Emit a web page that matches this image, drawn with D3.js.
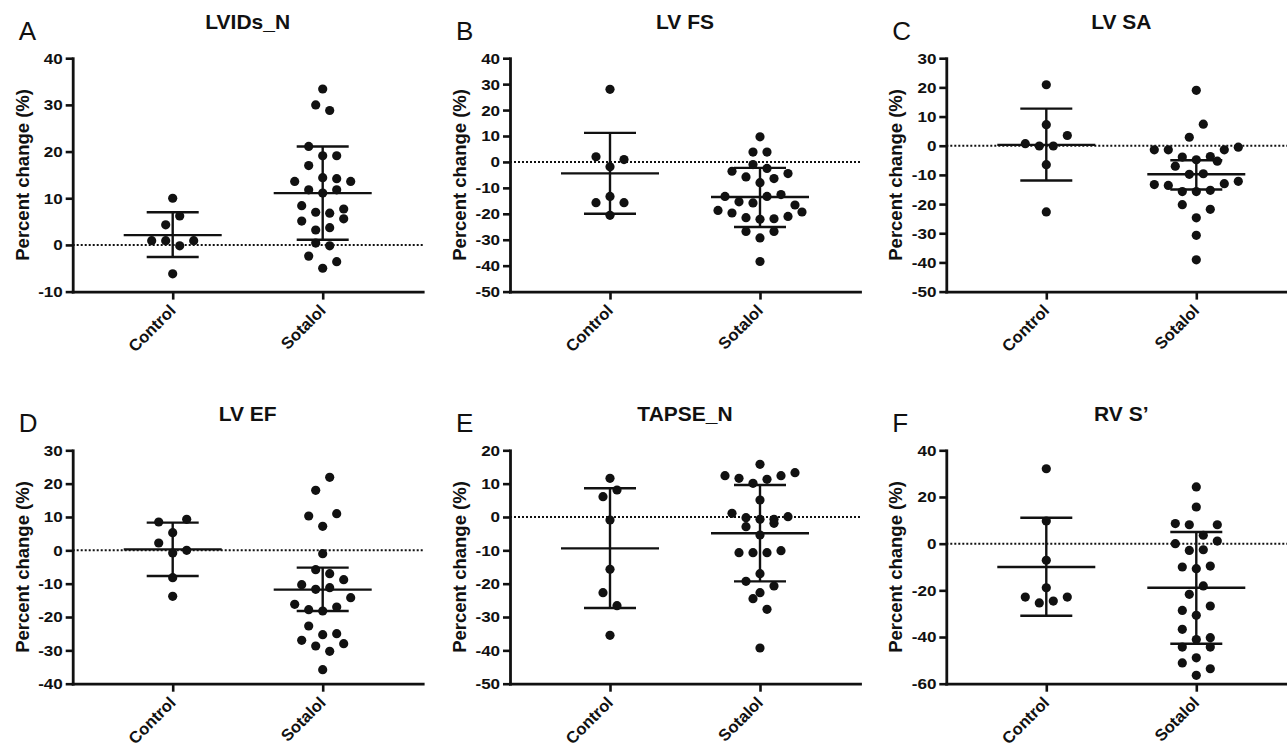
<!DOCTYPE html>
<html>
<head>
<meta charset="utf-8">
<script src="https://cdn.jsdelivr.net/npm/d3@7"></script>
<style>
  body { margin: 0; background: #fff; }
  text { font-family: "Liberation Sans", Arial, Helvetica, sans-serif; fill: #111; }
</style>
</head>
<body>
<div id="my_dataviz"></div>
<script>
// categories shared by every panel
const groups = ["Control", "Sotalol"];

// values (percent change), rows listed top to bottom, left to right
const lvidsControl = [10, 4.3, 6.2, 0.9, 0.9, -0.2, 0.9, -6.2];
const lvidsSotalol = [33.4, 30.0, 28.8, 21.1, 19.1, 19.1, 17.0, 14.4, 14.2, 13.6, 11.8, 11.1, 11.8, 13.6,
  8.4, 7.0, 6.8, 7.7, 5.1, 3.2, 3.7, 5.6, 0.4, -0.2, -2.4, -5.0, -3.6];

const fsControl = [28, 2.0, -1.9, 0.9, -13.3, -15.7, -20.6, -15.7];
const fsSotalol = [9.7, 3.8, 3.8, -1.0, -2.5, -3.6, -5.8, -8.0, -6.4, -4.5, -13.3, -15.4, -15.8, -13.3,
  -12.6, -16.6, -18.7, -19.7, -21.5, -22.1, -21.9, -21.0, -19.3, -26.8, -29.3, -26.8, -38.4];

const saControl = [20.9, 7.2, 0.7, -0.1, -0.1, 3.5, -6.5, -22.7];
const saSotalol = [19.0, 2.9, 7.4, -1.4, -1.4, -3.9, -4.8, -3.7, -1.4, -0.5, -7.0, -9.8, -9.6, -5.3,
  -13.3, -13.6, -15.7, -15.7, -15.3, -13.0, -12.2, -20.2, -24.7, -21.8, -30.7, -39.1];

const efControl = [8.5, 5.3, 9.3, 2.2, -0.8, 0.0, -8.2, -13.8];
const efSotalol = [18.0, 21.9, 10.3, 7.2, 11.0, -1.0, -5.8, -7.0, -10.3, -11.7, -11.2, -8.8, -16.2, -17.8,
  -18.2, -17.0, -14.2, -22.7, -25.3, -25.0, -27.0, -28.7, -30.3, -28.0, -35.8];

const tapseControl = [11.6, 6.1, 8.1, -0.9, -15.7, -22.7, -26.6, -35.5];
const tapseSotalol = [15.8, 12.4, 11.6, 10.1, 11.3, 12.4, 13.3, 5.1, 1.1, -0.2, -0.7, -0.7, 0.1, -2.9,
  -5.4, -1.9, -10.7, -10.7, -10.7, -10.1, -17.0, -19.3, -22.7, -20.7, -24.5, -27.7, -39.3];

const rvsControl = [32.1, 9.7, -7.1, -18.9, -22.9, -25.4, -24.6, -22.9];
const rvsSotalol = [24.3, 15.7, 8.6, 8.1, 3.6, 8.1, 0.0, -2.9, -2.6, 1.1, -10.0, -10.7, -9.6, -21.7,
  -18.1, -28.6, -30.7, -26.7, -36.7, -41.1, -40.3, -44.3, -48.9, -44.3, -51.1, -56.4, -53.6];

// mean and error bar ends as drawn: [mean, upper, lower] per group
const lvidsBars = [[2.1, 7.0, -2.6], [11.1, 21.1, 1.1]];
const fsBars = [[-4.4, 11.2, -20.0], [-13.5, -2.3, -25.1]];
const saBars = [[0.3, 12.7, -11.9], [-9.8, -5.0, -15.0]];
const efBars = [[0.3, 8.3, -7.7], [-11.8, -5.2, -18.2]];
const tapseBars = [[-9.4, 8.6, -27.3], [-4.9, 9.6, -19.3]];
const rvsBars = [[-10.0, 11.1, -30.9], [-18.9, 5.0, -42.9]];

// axis ranges and tick steps
const panelLetters = ["A", "B", "C", "D", "E", "F"];
const panelTitles = ["LVIDs_N", "LV FS", "LV SA", "LV EF", "TAPSE_N", "RV S\u2019"];
const yDomains = [[-10, 40], [-50, 40], [-50, 30], [-40, 30], [-50, 20], [-60, 40]];
const yTickSteps = [10, 10, 10, 10, 10, 20];

const panelValues = [
  [lvidsControl, lvidsSotalol], [fsControl, fsSotalol], [saControl, saSotalol],
  [efControl, efSotalol], [tapseControl, tapseSotalol], [rvsControl, rvsSotalol]
];
const panelBars = [lvidsBars, fsBars, saBars, efBars, tapseBars, rvsBars];

// layout
var width = 350, height = 233.4;
var lefts = [72.7, 510, 946.3], tops = [58.2, 450.3];
var slot = 14, rowGap = 13.8, r = 4.6;

var svg = d3.select("#my_dataviz")
  .append("svg")
    .attr("width", 1287)
    .attr("height", 746);

// prism-like scatter: rows built from the bottom, points spread evenly across each row
function swarm(values, y) {
  var order = values.map(function(d, i) { return i; })
    .sort(function(a, b) { return values[a] - values[b]; });
  var rows = [], cur = null;
  order.forEach(function(i) {
    var py = y(values[i]);
    if (!cur || cur.y0 - py > rowGap) {
      cur = {y0: py, items: []};
      rows.push(cur);
    }
    cur.items.push(i);
  });
  var dx = [];
  rows.forEach(function(row) {
    row.items.sort(function(a, b) { return a - b; });
    var n = row.items.length;
    row.items.forEach(function(i, k) { dx[i] = (k - (n - 1) / 2) * slot; });
  });
  return values.map(function(v, i) { return {v: v, dx: dx[i]}; });
}

panelLetters.forEach(function(letter, p) {
  var g = svg.append("g")
    .attr("transform", "translate(" + lefts[p % 3] + "," + tops[Math.floor(p / 3)] + ")");

  var x = d3.scalePoint().domain(groups).range([0, width]).padding(2 / 3);
  var y = d3.scaleLinear().domain(yDomains[p]).range([height, 0]);
  var step = yTickSteps[p];
  var ticks = d3.range(yDomains[p][0], yDomains[p][1] + step / 2, step);

  // zero reference line
  g.append("line")
    .attr("x1", 0).attr("x2", width)
    .attr("y1", y(0)).attr("y2", y(0))
    .attr("stroke", "#111")
    .attr("stroke-width", 2)
    .attr("stroke-dasharray", "2 2");

  // y axis (plain hyphen minus, like the figure)
  var yAxis = g.append("g")
    .call(d3.axisLeft(y).tickValues(ticks).tickSize(7).tickSizeOuter(0).tickPadding(2)
      .tickFormat(function(d) { return String(d); }));
  yAxis.selectAll("text")
    .attr("font-size", "15.5px")
    .attr("font-weight", "bold")
    .attr("font-family", "Liberation Sans, Arial, sans-serif")
    .attr("fill", "#111")
    .attr("transform", "scale(1.1,1)");

  // x axis
  var xAxis = g.append("g")
    .attr("transform", "translate(0," + height + ")")
    .call(d3.axisBottom(x).tickSize(8).tickSizeOuter(0).tickFormat(""));

  [yAxis, xAxis].forEach(function(a) {
    a.select(".domain").attr("stroke", "#111").attr("stroke-width", 2.8).attr("stroke-linecap", "square");
    a.selectAll(".tick line").attr("stroke", "#111").attr("stroke-width", 2.6);
  });

  g.selectAll(".cat")
    .data(groups)
    .enter().append("text")
      .attr("class", "cat")
      .attr("text-anchor", "end")
      .attr("font-size", "16.5px")
      .attr("font-weight", "bold")
      .attr("transform", function(d) { return "translate(" + (x(d) + 4) + "," + (height + 20) + ") rotate(-45)"; })
      .text(function(d) { return d; });

  // axis title, panel title, panel letter
  g.append("text")
    .attr("text-anchor", "middle")
    .attr("font-size", "18.5px")
    .attr("font-weight", "bold")
    .attr("transform", "translate(-44," + (height / 2) + ") rotate(-90)")
    .text("Percent change (%)");

  g.append("text")
    .attr("text-anchor", "middle")
    .attr("font-size", "20px")
    .attr("font-weight", "bold")
    .attr("transform", "translate(" + (width / 2) + ",-29.5) scale(1.05,1)")
    .text(panelTitles[p]);

  g.append("text")
    .attr("x", -54)
    .attr("y", -18)
    .attr("font-size", "26px")
    .attr("fill", "#222")
    .text(letter);

  // mean and error bars
  groups.forEach(function(name, k) {
    var b = panelBars[p][k], cx = x(name);
    var bars = g.append("g")
      .attr("stroke", "#111")
      .attr("stroke-width", 2.4);
    bars.append("line").attr("x1", cx - 49).attr("x2", cx + 49).attr("y1", y(b[0])).attr("y2", y(b[0]));
    bars.append("line").attr("x1", cx - 26).attr("x2", cx + 26).attr("y1", y(b[1])).attr("y2", y(b[1]));
    bars.append("line").attr("x1", cx - 26).attr("x2", cx + 26).attr("y1", y(b[2])).attr("y2", y(b[2]));
    bars.append("line").attr("x1", cx).attr("x2", cx).attr("y1", y(b[1])).attr("y2", y(b[2]));

    // the points
    g.append("g")
      .selectAll("circle")
      .data(swarm(panelValues[p][k], y))
      .enter().append("circle")
        .attr("cx", function(d) { return cx + d.dx; })
        .attr("cy", function(d) { return y(d.v); })
        .attr("r", r)
        .style("fill", "#111");
  });
});
</script>
</body>
</html>
